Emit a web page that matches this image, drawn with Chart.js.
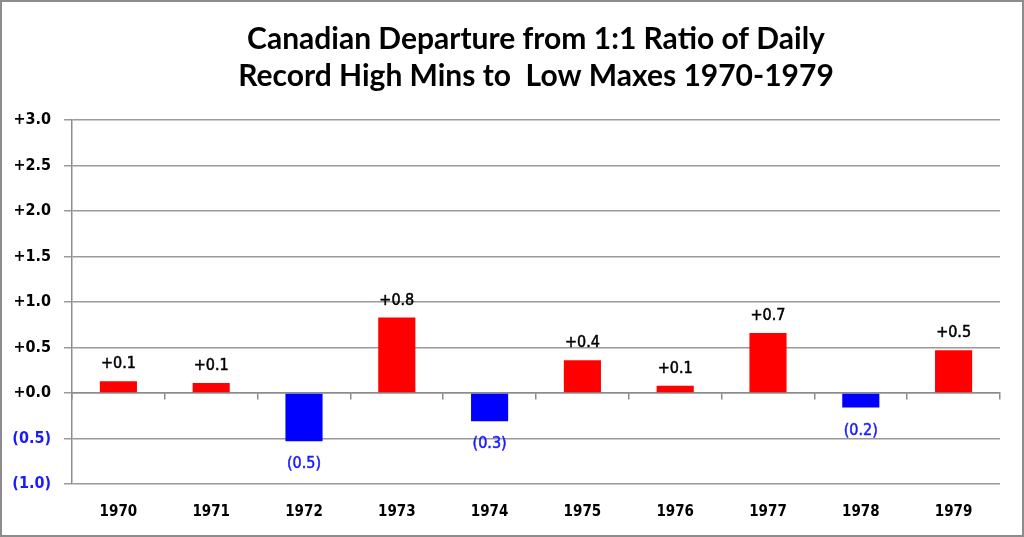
<!DOCTYPE html>
<html>
<head>
<meta charset="utf-8">
<script src="https://cdn.jsdelivr.net/npm/chart.js@4/dist/chart.umd.min.js"></script>
<style>
	html, body { margin: 0; padding: 0; background: #fff; }
	.frame { width: 1024px; height: 537px; box-sizing: border-box; border: 2px solid #8c8c8c; }
</style>
</head>
<body>
<div class="frame"><canvas id="chart"></canvas></div>
<script>
const years = [ '1970', '1971', '1972', '1973', '1974', '1975', '1976', '1977', '1978', '1979' ];
const departures = [ 0.13, 0.11, -0.53, 0.83, -0.31, 0.36, 0.08, 0.66, -0.16, 0.47 ];
const yTicks = [ 3.0, 2.5, 2.0, 1.5, 1.0, 0.5, 0.0, -0.5, -1.0 ];
const titleLines = [ 'Canadian Departure from 1:1 Ratio of Daily', 'Record High Mins to  Low Maxes 1970-1979' ];

const labelFont = '"DejaVu Sans Condensed", "DejaVu Sans"';
const fmt = (v) => (v < 0 ? '(' + Math.abs(v).toFixed(1) + ')' : '+' + v.toFixed(1));

// title is centred over the plot area, not the whole canvas
const plotTitle = {
	id: 'plotTitle',
	afterDraw(chart) {
		const ctx = chart.ctx;
		const cx = (chart.chartArea.left + chart.chartArea.right) / 2;
		ctx.save();
		ctx.font = 'bold 30px Lato';
		ctx.fillStyle = '#000';
		ctx.textAlign = 'center';
		ctx.textBaseline = 'middle';
		titleLines.forEach((line, i) => ctx.fillText(line, cx, 37 + i * 37));
		ctx.restore();
	}
};

// draws the +0.1 / (0.5) labels over each bar
const barLabels = {
	id: 'barLabels',
	afterDatasetsDraw(chart) {
		const ctx = chart.ctx;
		const meta = chart.getDatasetMeta(0);
		ctx.save();
		ctx.font = '16px ' + labelFont;
		ctx.textAlign = 'center';
		ctx.lineWidth = 0.5;
		meta.data.forEach((bar, i) => {
			const v = departures[i];
			let y;
			if (v < 0) {
				ctx.fillStyle = ctx.strokeStyle = '#1a1aff';
				ctx.textBaseline = 'top';
				y = bar.y + 15;
			} else {
				ctx.fillStyle = ctx.strokeStyle = '#000';
				ctx.textBaseline = 'bottom';
				y = bar.y - 9;
			}
			ctx.fillText(fmt(v), bar.x, y);
			ctx.strokeText(fmt(v), bar.x, y);
		});
		ctx.restore();
	}
};

new Chart(document.getElementById('chart'), {
	type: 'bar',
	data: {
		labels: years,
		datasets: [
			{
				data: departures,
				backgroundColor: departures.map((v) => (v < 0 ? '#0000ff' : '#ff0000')),
				categoryPercentage: 1,
				barPercentage: 0.4
			}
		]
	},
	options: {
		responsive: true,
		maintainAspectRatio: false,
		animation: false,
		layout: { padding: { top: 118, left: 8, right: 22, bottom: 3 } },
		plugins: {
			legend: { display: false },
			tooltip: { enabled: false },
			title: { display: false }
		},
		scales: {
			x: {
				grid: { display: false },
				border: { display: false },
				ticks: { color: '#000', font: { family: labelFont, size: 15, weight: 'bold' }, padding: 11 }
			},
			zero: {
				type: 'category',
				axis: 'x',
				labels: years,
				position: { y: 0 },
				grid: { offset: true, drawOnChartArea: false, color: '#8c8c8c', lineWidth: 1.5, tickLength: 6 },
				border: { color: '#8c8c8c', width: 1.5 },
				ticks: { display: false }
			},
			y: {
				min: -1,
				max: 3,
				afterBuildTicks: (scale) => {
					scale.ticks = yTicks.map((v) => ({ value: v }));
				},
				afterFit: (scale) => {
					scale.width = 62;
				},
				grid: { color: '#9a9a9a', lineWidth: 1.5, tickLength: 8 },
				border: { color: '#8c8c8c', width: 1.5 },
				ticks: {
					padding: 13,
					font: { family: labelFont, size: 16, weight: 'bold' },
					color: (c) => (c.tick.value < 0 ? '#1a1aff' : '#000'),
					callback: (v) => fmt(v)
				}
			}
		}
	},
	plugins: [ barLabels, plotTitle ]
});
</script>
</body>
</html>
